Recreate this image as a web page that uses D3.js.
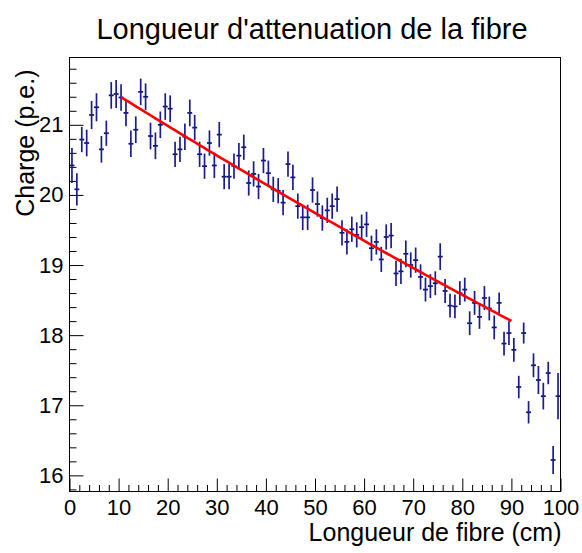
<!DOCTYPE html>
<html>
<head>
<meta charset="utf-8">
<script src="https://cdn.jsdelivr.net/npm/d3@7"></script>
<style>
  html, body { margin: 0; padding: 0; background: #fff; }
  svg { display: block; }
  text { font-family: "Liberation Sans", Arial, Helvetica, sans-serif; fill: #000; }
</style>
</head>
<body>
<svg id="chart" width="582" height="553"></svg>
<script>
// Bin centres along the fibre (cm), one per 1 cm bin
const binCentres = [
  0.5, 1.5, 2.5, 3.5, 4.5, 5.5, 6.5, 7.5, 8.5, 9.5,
  10.5, 11.5, 12.5, 13.5, 14.5, 15.5, 16.5, 17.5, 18.5, 19.5,
  20.5, 21.5, 22.5, 23.5, 24.5, 25.5, 26.5, 27.5, 28.5, 29.5,
  30.5, 31.5, 32.5, 33.5, 34.5, 35.5, 36.5, 37.5, 38.5, 39.5,
  40.5, 41.5, 42.5, 43.5, 44.5, 45.5, 46.5, 47.5, 48.5, 49.5,
  50.5, 51.5, 52.5, 53.5, 54.5, 55.5, 56.5, 57.5, 58.5, 59.5,
  60.5, 61.5, 62.5, 63.5, 64.5, 65.5, 66.5, 67.5, 68.5, 69.5,
  70.5, 71.5, 72.5, 73.5, 74.5, 75.5, 76.5, 77.5, 78.5, 79.5,
  80.5, 81.5, 82.5, 83.5, 84.5, 85.5, 86.5, 87.5, 88.5, 89.5,
  90.5, 91.5, 92.5, 93.5, 94.5, 95.5, 96.5, 97.5, 98.5, 99.5
];

// Mean charge per bin (p.e.)
const charge = [
  20.42, 20.08, 20.79, 20.74, 21.14, 21.25, 20.65, 20.88, 21.42, 21.44,
  21.39, 21.17, 20.73, 20.93, 21.47, 21.40, 20.84, 20.70, 21.00, 21.26,
  21.23, 20.58, 20.65, 20.83, 21.17, 20.96, 20.58, 20.41, 20.74, 20.42,
  20.86, 20.26, 20.26, 20.41, 20.56, 20.68, 20.17, 20.30, 20.12, 20.49,
  20.31, 20.08, 20.06, 19.89, 20.44, 20.25, 19.84, 19.68, 19.68, 20.07,
  19.87, 19.67, 19.78, 19.84, 19.94, 19.46, 19.33, 19.51, 19.43, 19.54,
  19.58, 19.24, 19.33, 19.08, 19.40, 19.42, 18.88, 18.91, 19.16, 19.00,
  19.07, 18.83, 18.65, 18.70, 18.74, 19.12, 18.63, 18.42, 18.41, 18.60,
  18.65, 18.17, 18.46, 18.26, 18.53, 18.38, 18.11, 18.46, 17.88, 18.03,
  17.79, 17.26, 18.03, 16.90, 17.57, 17.36, 17.13, 17.46, 16.22, 17.13
];

// Error on the mean charge per bin (p.e.)
const chargeError = [
  0.25, 0.23, 0.18, 0.19, 0.20, 0.20, 0.19, 0.18, 0.19, 0.20,
  0.19, 0.19, 0.19, 0.19, 0.19, 0.19, 0.19, 0.19, 0.19, 0.19,
  0.19, 0.18, 0.18, 0.19, 0.19, 0.18, 0.18, 0.18, 0.18, 0.18,
  0.18, 0.18, 0.18, 0.18, 0.18, 0.18, 0.18, 0.18, 0.18, 0.18,
  0.18, 0.18, 0.18, 0.18, 0.18, 0.18, 0.18, 0.18, 0.18, 0.18,
  0.18, 0.18, 0.18, 0.18, 0.18, 0.18, 0.18, 0.18, 0.18, 0.18,
  0.18, 0.18, 0.18, 0.18, 0.18, 0.18, 0.18, 0.18, 0.19, 0.18,
  0.18, 0.18, 0.17, 0.17, 0.17, 0.19, 0.17, 0.17, 0.17, 0.17,
  0.17, 0.17, 0.17, 0.17, 0.17, 0.17, 0.17, 0.15, 0.17, 0.17,
  0.17, 0.16, 0.15, 0.16, 0.17, 0.20, 0.19, 0.16, 0.20, 0.33
];

const binHalfWidth = 0.5;

// Exponential attenuation fit: exp(p0 + p1 * x) over [fitMin, fitMax]
const fitP0 = 3.0845;
const fitP1 = -0.002033;
const fitMin = 10.5;
const fitMax = 90;

// Axis ranges and ticks
const xDomain = [0, 100];
const yDomain = [15.77, 21.96];
const xMajorTicks = [0, 10, 20, 30, 40, 50, 60, 70, 80, 90, 100];
const yMajorTicks = [16, 17, 18, 19, 20, 21];

const title = "Longueur d'attenuation de la fibre";
const xTitle = "Longueur de fibre (cm)";
const yTitle = "Charge (p.e.)";

// ---- layout ----
const frame = { left: 69.5, right: 560.5, top: 57.5, bottom: 491.5 };

const svg = d3.select("#chart");
svg.append("rect").attr("width", 582).attr("height", 553).attr("fill", "#fff");

const x = d3.scaleLinear().domain(xDomain).range([frame.left, frame.right]);
const y = d3.scaleLinear().domain(yDomain).range([frame.bottom, frame.top]);

const frameW = frame.right - frame.left;
const frameH = frame.bottom - frame.top;

// minor ticks: 5 subdivisions per major interval on both axes
const xMinor = d3.range(xDomain[0], xDomain[1] + 1e-9, 2).filter(v => !xMajorTicks.includes(v));
const yMinor = d3.range(15.8, yDomain[1], 0.2).map(v => +v.toFixed(1)).filter(v => !yMajorTicks.includes(v));

// X axis (ticks point inward, up from the bottom frame)
const xAxis = d3.axisBottom(x).tickValues(xMajorTicks).tickSizeInner(-13).tickSizeOuter(0).tickPadding(8)
  .tickFormat(d3.format("d"));
const gx = svg.append("g").attr("transform", `translate(0,${frame.bottom})`).call(xAxis);
gx.select(".domain").remove();
gx.selectAll(".tick line").attr("stroke", "#000").attr("stroke-width", 1);
gx.selectAll(".tick text").attr("font-size", 22).attr("fill", "#000");
const xMinorAxis = d3.axisBottom(x).tickValues(xMinor).tickSizeInner(-6.5).tickSizeOuter(0).tickFormat("");
const gxm = svg.append("g").attr("transform", `translate(0,${frame.bottom})`).call(xMinorAxis);
gxm.select(".domain").remove();
gxm.selectAll(".tick line").attr("stroke", "#000");

// Y axis (ticks point inward, right from the left frame)
const yAxis = d3.axisLeft(y).tickValues(yMajorTicks).tickSizeInner(-14).tickSizeOuter(0).tickPadding(6)
  .tickFormat(d3.format("d"));
const gy = svg.append("g").attr("transform", `translate(${frame.left},0)`).call(yAxis);
gy.select(".domain").remove();
gy.selectAll(".tick line").attr("stroke", "#000");
gy.selectAll(".tick text").attr("font-size", 22).attr("fill", "#000");
const yMinorAxis = d3.axisLeft(y).tickValues(yMinor).tickSizeInner(-7).tickSizeOuter(0).tickFormat("");
const gym = svg.append("g").attr("transform", `translate(${frame.left},0)`).call(yMinorAxis);
gym.select(".domain").remove();
gym.selectAll(".tick line").attr("stroke", "#000");

// Data points with error bars
const points = binCentres.map((c, i) => ({ x: c, y: charge[i], e: chargeError[i] }));
const pts = svg.append("g").attr("stroke", "#1c1c92").attr("stroke-width", 1.7);
pts.selectAll("line.ex").data(points).join("line")
  .attr("class", "ex")
  .attr("x1", d => x(d.x - binHalfWidth)).attr("x2", d => x(d.x + binHalfWidth))
  .attr("y1", d => y(d.y)).attr("y2", d => y(d.y))
  .attr("stroke", "#0c0c70");
pts.selectAll("line.ey").data(points).join("line")
  .attr("class", "ey")
  .attr("x1", d => x(d.x)).attr("x2", d => x(d.x))
  .attr("y1", d => y(d.y - d.e)).attr("y2", d => y(d.y + d.e));

// Fit curve
const fitXs = d3.range(0, 101).map(k => fitMin + (fitMax - fitMin) * k / 100);
const fitLine = d3.line().x(d => x(d)).y(d => y(Math.exp(fitP0 + fitP1 * d)));
svg.append("path").datum(fitXs).attr("d", fitLine)
  .attr("fill", "none").attr("stroke", "#ff0000").attr("stroke-width", 2.6);

// Frame
svg.append("rect")
  .attr("x", frame.left).attr("y", frame.top)
  .attr("width", frameW).attr("height", frameH)
  .attr("fill", "none").attr("stroke", "#000").attr("stroke-width", 1);

// Titles
svg.append("text").attr("x", 312).attr("y", 39).attr("text-anchor", "middle")
  .attr("font-size", 29).text(title);
svg.append("text").attr("x", frame.right + 1).attr("y", 541).attr("text-anchor", "end")
  .attr("font-size", 25).text(xTitle);
svg.append("text").attr("transform", `translate(34,${frame.top + 12}) rotate(-90)`)
  .attr("text-anchor", "end").attr("font-size", 25).text(yTitle);
</script>
</body>
</html>
